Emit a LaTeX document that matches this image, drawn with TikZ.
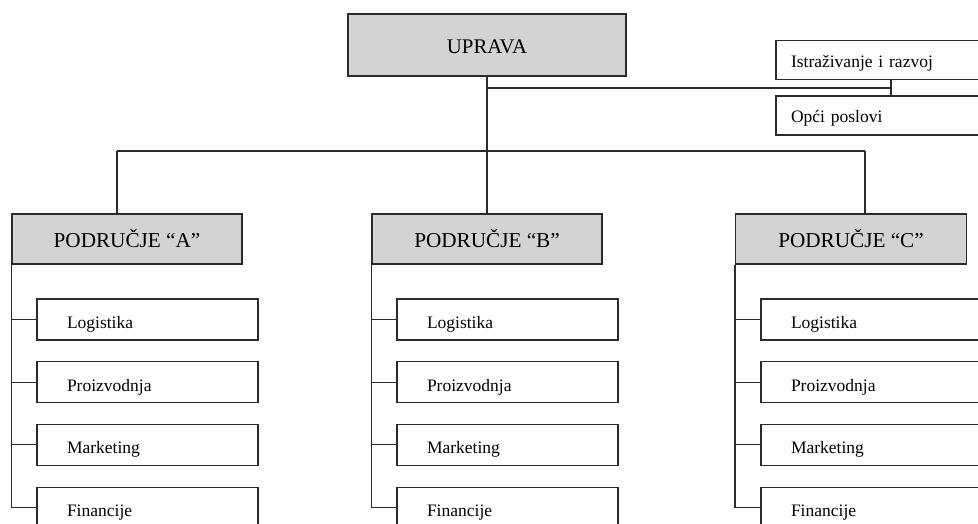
\documentclass[tikz,border=0pt]{standalone}
\usepackage{fontspec}
\setmainfont{Liberation Serif}
\usepackage{tikz}
\usetikzlibrary{positioning}

\definecolor{boxgray}{HTML}{D3D3D3}
\definecolor{linegray}{HTML}{2B2B2B}

\tikzset{
  link/.style={draw=linegray, line width=1.1pt},
  head/.style={link, fill=boxgray, minimum width=230pt, minimum height=50pt,
               inner sep=0pt, text height=17.6pt, text depth=0pt,
               font=\fontsize{21.2}{25}\selectfont},
  unit/.style={link, minimum width=221pt, minimum height=41pt, text width=161pt,
               inner xsep=30pt, inner ysep=0pt, align=left,
               text height=18pt, text depth=0pt,
               font=\fontsize{17.5}{21}\selectfont},
  staff/.style={unit, minimum width=210pt, minimum height=39pt, text width=180pt,
                inner xsep=15pt, text height=13.5pt}
}

\begin{document}
\begin{tikzpicture}[x=1pt, y=-1pt]
  \useasboundingbox (0,0) rectangle (978,524);

  % management and staff
  \node[head, minimum width=278pt, minimum height=62pt,
        font=\fontsize{20.8}{24}\selectfont] (uprava) at (487,45) {UPRAVA};
  \node[staff] (razvoj) at (881,60.3) {Istraživanje i razvoj};
  \node[staff] (poslovi) at (881,115.5) {Opći poslovi};
  \coordinate (staffbus) at (891,88);
  \draw[link] (uprava.south |- staffbus) -- (staffbus);
  \draw[link] (razvoj.south -| staffbus) -- (poslovi.north -| staffbus);

  % areas
  \foreach \area/\xl/\drop in {A/12/117, B/372/487, C/736/865}
  {
    \node[head, minimum width={\xl==736 ? 231 : 230}] (area\area) at ({\xl+115},239) {PODRUČJE “\area”};
    \coordinate (drop\area) at (\drop,151);
    \draw[link] (drop\area) -- (drop\area |- area\area.north);

    \foreach \dept [count=\i] in {Logistika, Proizvodnja, Marketing, Financije}
    {
      \node[unit] (\area\i) at ({\xl+135.5},{319.5+62.7*(\i-1)}) {\dept};
      \draw[link] (area\area.south west |- \area\i.west) -- (\area\i.west);
    }
    \draw[link] (area\area.south west) |- (\area4.west);
  }

  \draw[link] (dropA) -- (dropC);
  \draw[link] (uprava.south) -- (areaB.north);

\end{tikzpicture}
\end{document}
